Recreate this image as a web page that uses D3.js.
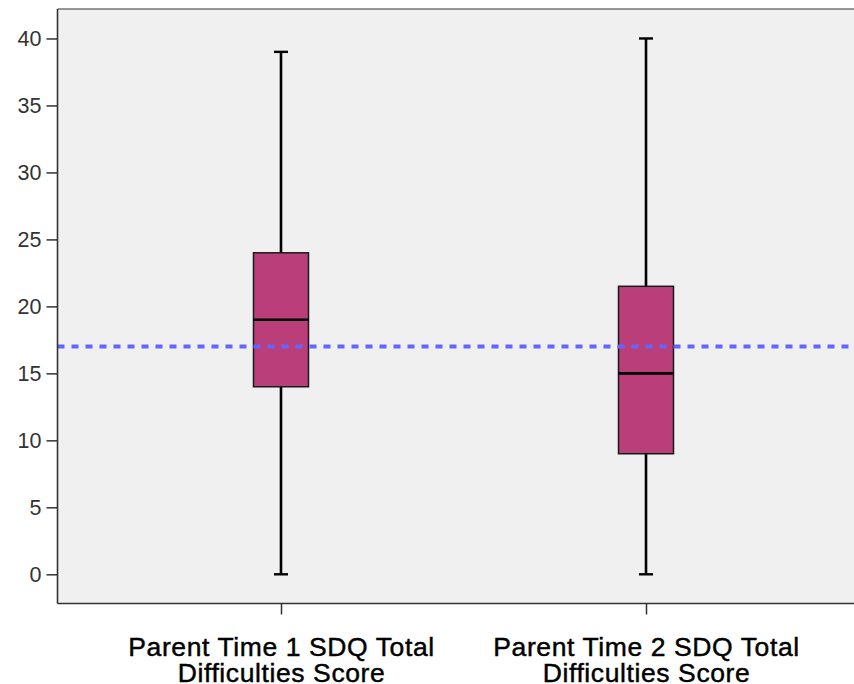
<!DOCTYPE html>
<html><head><meta charset="utf-8">
<script src="https://cdn.jsdelivr.net/npm/d3@7"></script>
<style>body{margin:0;background:#fff;} svg{display:block;}</style>
</head><body>
<svg id="c" width="854" height="684"></svg>
<script>
const categories = ["Parent Time 1 SDQ Total|Difficulties Score", "Parent Time 2 SDQ Total|Difficulties Score"];
const whiskerLow = [0, 0];
const q1 = [14, 9];
const medians = [19, 15];
const q3 = [24, 21.5];
const whiskerHigh = [39, 40];
const refLine = 17;
const yTicks = [0, 5, 10, 15, 20, 25, 30, 35, 40];

const svg = d3.select("#c");
const L = 57.5, T = 9, B = 603.5, R = 869.5;
const y = d3.scaleLinear().domain([-2.18, 42.2]).range([B, T]);
const x = d3.scalePoint().domain(categories).range([L, R]).padding(0.6123);

svg.append("rect").attr("x", L).attr("y", T).attr("width", 854 - L).attr("height", B - T).attr("fill", "#f0f0f0");

const data = categories.map((c, i) => ({c, lo: whiskerLow[i], q1: q1[i], med: medians[i], q3: q3[i], hi: whiskerHigh[i]}));
const boxW = 55, capW = 14;
const g = svg.append("g").selectAll("g").data(data).join("g");
g.append("line").attr("x1", d => x(d.c)).attr("x2", d => x(d.c)).attr("y1", d => y(d.hi)).attr("y2", d => y(d.lo))
  .attr("stroke", "#000").attr("stroke-width", 2.6);
g.append("line").attr("x1", d => x(d.c) - capW / 2).attr("x2", d => x(d.c) + capW / 2).attr("y1", d => y(d.hi)).attr("y2", d => y(d.hi))
  .attr("stroke", "#000").attr("stroke-width", 2.4);
g.append("line").attr("x1", d => x(d.c) - capW / 2).attr("x2", d => x(d.c) + capW / 2).attr("y1", d => y(d.lo)).attr("y2", d => y(d.lo))
  .attr("stroke", "#000").attr("stroke-width", 2.4);
g.append("rect").attr("x", d => x(d.c) - boxW / 2).attr("width", boxW).attr("y", d => y(d.q3)).attr("height", d => y(d.q1) - y(d.q3))
  .attr("fill", "#b93e7a").attr("stroke", "#1a1a1a").attr("stroke-width", 1.5);
g.append("line").attr("x1", d => x(d.c) - boxW / 2).attr("x2", d => x(d.c) + boxW / 2).attr("y1", d => y(d.med)).attr("y2", d => y(d.med))
  .attr("stroke", "#000").attr("stroke-width", 2.6);

svg.append("line").attr("x1", L).attr("x2", 854).attr("y1", y(refLine)).attr("y2", y(refLine))
  .attr("stroke", "#6464ff").attr("stroke-width", 4).attr("stroke-dasharray", "7,7");

// axes frame
svg.append("line").attr("x1", L).attr("x2", 854).attr("y1", T).attr("y2", T).attr("stroke", "#333").attr("stroke-width", 1.2);
const ya = svg.append("g").attr("transform", `translate(${L},0)`)
  .call(d3.axisLeft(y).tickValues(yTicks).tickSize(11).tickPadding(5).tickSizeOuter(0));
ya.select(".domain").attr("stroke", "#333").attr("stroke-width", 1.6).attr("d", `M0,${T}V${B}`);
ya.selectAll(".tick line").attr("stroke", "#333").attr("stroke-width", 1.5);
ya.selectAll(".tick text").attr("font-family", "Liberation Sans, Arial, sans-serif").attr("font-size", 21.5).attr("fill", "#333");

const xa = svg.append("g").attr("transform", `translate(0,${B})`)
  .call(d3.axisBottom(x).tickSize(11).tickSizeOuter(0).tickFormat(() => ""));
xa.select(".domain").attr("stroke", "#333").attr("stroke-width", 1.6).attr("d", `M${L},0H854`);
xa.selectAll(".tick line").attr("stroke", "#333").attr("stroke-width", 1.5);
xa.selectAll(".tick").each(function(d) {
  const t = d3.select(this).append("text").attr("text-anchor", "middle").attr("fill", "#000")
    .attr("stroke", "#000").attr("stroke-width", 0.45)
    .attr("font-family", "Liberation Sans, Arial, sans-serif").attr("font-size", 26.5).attr("letter-spacing", 0.6);
  d.split("|").forEach((s, i) => t.append("tspan").attr("x", 0).attr("y", 52 + i * 26.5).text(s));
});
</script>
</body></html>
